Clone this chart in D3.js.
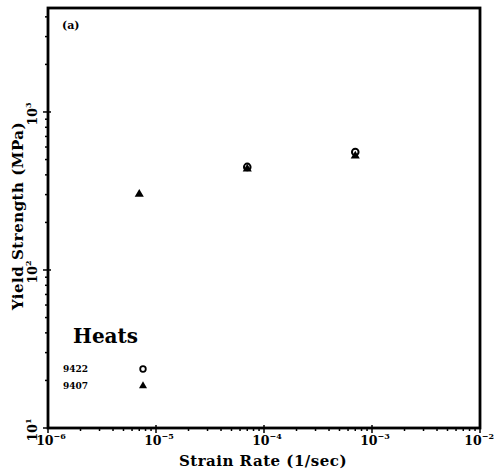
<!DOCTYPE html>
<html><head><meta charset="utf-8">
<script src="https://cdn.jsdelivr.net/npm/d3@7"></script>
<style>body{margin:0;background:#fff}svg{display:block}text{font-family:"DejaVu Serif",serif;font-weight:bold;fill:#000}</style>
</head><body><svg id="c" width="495" height="476"></svg>
<script>
// ---- data ----
const strainRates = [7e-6, 7e-5, 7e-4];
const heat9422 = [null, 449, 558];   // open circles
const heat9407 = [302, 436, 527];    // filled triangles
const heatNames = ["9422", "9407"];
const xTickExps = [-6, -5, -4, -3, -2];
const yTickExps = [1, 2, 3];
const yTop = 4550;

const svg = d3.select("#c");
const L = 48, R = 480, T = 8, B = 428;
const x = d3.scaleLog().domain([1e-6, 1e-2]).range([L, R]);
const y = d3.scaleLog().domain([10, yTop]).range([B, T]);

function minors(lo, hi){ const a=[]; for(let e=Math.floor(Math.log10(lo)); e<=Math.ceil(Math.log10(hi)); e++) for(let m=1;m<10;m++){const v=m*Math.pow(10,e); if(v>=lo*0.999&&v<=hi*1.001) a.push({v,major:m===1});} return a; }

const g = svg.append("g").attr("stroke","#000");
g.selectAll(".xt").data(minors(1e-6,1e-2)).join("line")
  .attr("x1",d=>x(d.v)).attr("x2",d=>x(d.v)).attr("y1",d=>d.major?B-3:B).attr("y2",d=>B+(d.major?5:3)).attr("stroke-width",1.5);
g.selectAll(".yt").data(minors(10,yTop)).join("line")
  .attr("y1",d=>y(d.v)).attr("y2",d=>y(d.v)).attr("x1",d=>L-(d.major?5:3)).attr("x2",d=>d.major?L+3:L).attr("stroke-width",1.5);

// frame
svg.append("rect").attr("x",L).attr("y",T).attr("width",R-L).attr("height",B-T)
  .attr("fill","none").attr("stroke","#000").attr("stroke-width",2.8);

// x tick labels
const xl = svg.append("g").selectAll("text").data(xTickExps).join("text")
  .attr("x",(d,i)=>i===xTickExps.length-1?494:x(Math.pow(10,d))+3)
  .attr("y",445)
  .attr("text-anchor",(d,i)=>i===xTickExps.length-1?"end":"middle").attr("font-size",12.5);
xl.append("tspan").text("10");
xl.append("tspan").attr("dy",-6).attr("font-size",8).text(d=>"\u2212"+(-d));

// y tick labels
const yl = svg.append("g").selectAll("text").data(yTickExps).join("text")
  .attr("transform",d=>`translate(37,${y(Math.pow(10,d))+2}) rotate(-90)`).attr("text-anchor","middle").attr("font-size",12.5);
yl.append("tspan").text("10");
yl.append("tspan").attr("dy",-6).attr("font-size",8).text(d=>d);

// axis titles
svg.append("text").attr("x",263).attr("y",466).attr("text-anchor","middle").attr("font-size",15).attr("letter-spacing",0.5).text("Strain Rate (1/sec)");
svg.append("text").attr("transform","translate(23,216) rotate(-90)").attr("text-anchor","middle").attr("font-size",15).attr("letter-spacing",0.5).text("Yield Strength (MPa)");

// panel label
svg.append("text").attr("x",62).attr("y",29).attr("font-size",11).text("(a)");

// markers
const tri = d3.symbol().type(d3.symbolTriangle).size(36);
svg.append("g").selectAll("path").data(strainRates.map((s,i)=>({s,v:heat9407[i]})).filter(d=>d.v!=null)).join("path")
  .attr("d",tri).attr("transform",d=>`translate(${x(d.s)},${y(d.v)})`).attr("fill","#000");
svg.append("g").selectAll("circle").data(strainRates.map((s,i)=>({s,v:heat9422[i]})).filter(d=>d.v!=null)).join("circle")
  .attr("cx",d=>x(d.s)).attr("cy",d=>y(d.v)).attr("r",3.3).attr("fill","none").attr("stroke","#000").attr("stroke-width",2);

// legend
svg.append("text").attr("x",73).attr("y",343).attr("font-size",20).text("Heats");
const lg = svg.append("g");
heatNames.forEach((n,i)=>{
  const yy = 369 + i*17;
  lg.append("text").attr("x",63).attr("y",yy+3).attr("font-size",9).text(n);
});
lg.append("circle").attr("cx",143).attr("cy",369).attr("r",2.8).attr("fill","none").attr("stroke","#000").attr("stroke-width",1.8);
lg.append("path").attr("d",d3.symbol().type(d3.symbolTriangle).size(28)).attr("transform","translate(143,386)").attr("fill","#000");
</script></body></html>
